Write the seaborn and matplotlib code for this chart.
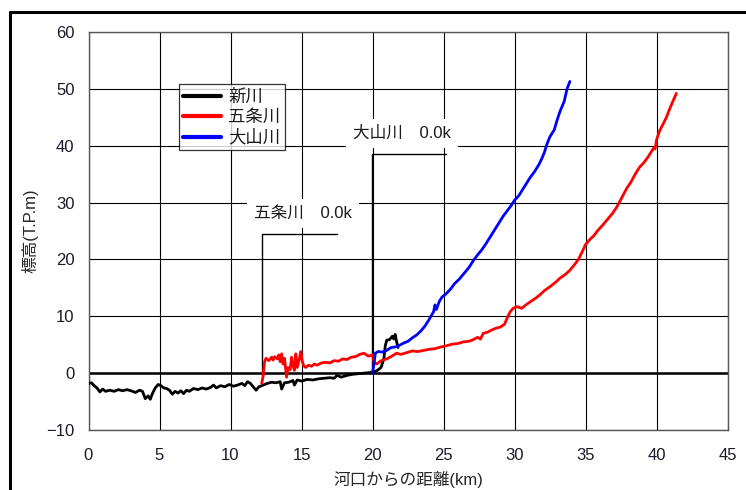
import numpy as np
import pandas as pd
import matplotlib as mpl
mpl.use("Agg")
import matplotlib.pyplot as plt
import seaborn as sns
from matplotlib.lines import Line2D

# data (distance from river mouth km, elevation T.P.m)
shinkawa_km = [0.0, 0.2, 0.4, 0.6, 0.8, 1.0, 1.2, 1.5, 1.8, 2.1, 2.4, 2.7, 3.0, 3.3, 3.6, 3.8,
               4.0, 4.2, 4.35, 4.5, 4.7, 4.9, 5.1, 5.3, 5.5, 5.7, 5.9, 6.1, 6.3, 6.5, 6.7, 6.9,
               7.1, 7.4, 7.7, 8.0, 8.3, 8.6, 8.8, 9.0, 9.3, 9.6, 9.9, 10.2, 10.5, 10.8, 11.0,
               11.2, 11.4, 11.6, 11.8, 12.0, 12.3, 12.6, 12.9, 13.2, 13.5, 13.6, 13.8, 14.1,
               14.4, 14.5, 14.7, 15.0, 15.4, 15.8, 16.2, 16.6, 17.0, 17.3, 17.5, 17.8, 18.2,
               18.6, 19.0, 19.4, 19.8, 20.0, 20.3, 20.6, 20.8, 20.9, 21.0, 21.2, 21.4, 21.5,
               21.6, 21.7, 21.8]
shinkawa_el = [-1.8, -1.7, -2.2, -2.6, -3.3, -2.8, -3.2, -3.0, -3.2, -2.9, -3.1, -2.9, -3.1,
               -3.4, -3.0, -3.2, -4.5, -4.0, -4.6, -3.6, -2.6, -2.0, -2.2, -2.6, -2.7, -3.0,
               -3.7, -3.2, -3.5, -3.1, -3.6, -3.0, -3.2, -2.7, -2.9, -2.6, -2.8, -2.5, -2.1,
               -2.6, -2.2, -2.4, -2.0, -2.3, -2.1, -1.8, -2.2, -1.5, -1.8, -2.4, -3.0, -2.4,
               -2.1, -1.8, -1.6, -1.7, -1.5, -2.8, -1.7, -1.6, -1.3, -2.1, -1.2, -1.4, -1.1,
               -1.2, -1.0, -0.9, -0.8, -0.9, -0.4, -0.7, -0.4, -0.2, -0.1, 0.0, 0.1, 0.2, 0.4,
               1.0, 2.5, 4.8, 5.8, 5.9, 6.5, 6.0, 6.8, 5.5, 4.5]

gojo_km = [12.2, 12.3, 12.4, 12.5, 12.7, 12.9, 13.0, 13.1, 13.3, 13.4, 13.5, 13.6, 13.7, 13.8,
           13.95, 14.05, 14.2, 14.3, 14.4, 14.5, 14.6, 14.7, 14.85, 14.95, 15.05, 15.15, 15.3,
           15.5, 15.7, 15.9, 16.1, 16.4, 16.7, 17.0, 17.3, 17.6, 17.9, 18.2, 18.5, 18.8, 19.1,
           19.4, 19.7, 20.0, 20.1, 20.3, 20.5, 20.7, 21.0, 21.3, 21.7, 22.0, 22.4, 22.8, 23.2,
           23.6, 24.0, 24.4, 24.8, 25.2, 25.6, 26.0, 26.4, 26.8, 27.1, 27.4, 27.6, 27.8, 28.1,
           28.4, 28.7, 29.0, 29.3, 29.5, 29.7, 29.9, 30.2, 30.5, 30.8, 31.2, 31.5, 31.8, 32.1,
           32.5, 32.9, 33.2, 33.6, 33.9, 34.2, 34.5, 34.8, 35.0, 35.3, 35.6, 35.9, 36.2, 36.6,
           36.9, 37.2, 37.5, 37.9, 38.2, 38.5, 38.8, 39.1, 39.4, 39.6, 39.8, 39.9, 40.0, 40.2,
           40.4, 40.7, 40.9, 41.1, 41.4]
gojo_el = [-1.8, -0.5, 2.0, 2.6, 2.2, 2.8, 2.3, 2.9, 2.5, 3.2, 2.0, 3.4, 1.6, 2.6, -0.7, 1.0,
           0.6, 2.8, 1.4, 0.5, 3.4, 1.0, 2.5, 3.8, 2.2, 1.3, 1.0, 1.4, 1.2, 1.6, 1.4, 1.8, 1.9,
           1.8, 2.2, 2.1, 2.5, 2.4, 2.8, 2.9, 3.3, 3.5, 3.0, 3.2, 2.0, 1.6, 2.0, 2.3, 2.5, 2.9,
           3.5, 3.3, 3.6, 3.9, 3.8, 4.0, 4.2, 4.3, 4.6, 4.8, 5.1, 5.2, 5.5, 5.6, 5.9, 6.3, 6.0,
           7.0, 7.2, 7.6, 7.9, 8.1, 8.6, 9.8, 10.8, 11.4, 11.7, 11.4, 12.0, 12.7, 13.2, 13.8,
           14.5, 15.2, 16.0, 16.7, 17.4, 18.1, 19.0, 20.0, 21.5, 22.6, 23.5, 24.2, 25.2, 26.0,
           27.2, 28.1, 29.2, 30.6, 32.5, 33.6, 35.0, 36.2, 37.0, 38.0, 38.8, 39.6, 39.4, 41.0,
           42.5, 43.5, 45.0, 46.3, 47.5, 49.2]

oyama_km = [20.0, 20.1, 20.2, 20.4, 20.7, 21.0, 21.3, 21.6, 21.9, 22.2, 22.5, 22.8, 23.1, 23.4,
            23.7, 24.0, 24.3, 24.4, 24.5, 24.7, 24.9, 25.2, 25.5, 25.8, 26.1, 26.4, 26.8, 27.1,
            27.4, 27.7, 28.0, 28.3, 28.6, 28.9, 29.2, 29.5, 29.8, 30.0, 30.3, 30.6, 30.8, 31.1,
            31.4, 31.7, 31.9, 32.1, 32.3, 32.5, 32.8, 33.0, 33.2, 33.5, 33.7, 33.9]
oyama_el = [0.0, 1.5, 3.5, 3.8, 3.7, 4.0, 4.5, 4.6, 4.9, 5.3, 5.6, 6.2, 6.7, 7.4, 8.3, 9.5,
            10.8, 12.0, 11.2, 12.6, 13.4, 14.0, 14.8, 15.8, 16.5, 17.4, 18.6, 19.8, 20.8, 21.7,
            22.8, 24.0, 25.2, 26.4, 27.6, 28.6, 29.6, 30.4, 31.2, 32.4, 33.2, 34.4, 35.4, 36.6,
            37.6, 38.8, 40.4, 41.6, 42.8, 44.5, 46.0, 47.8, 50.0, 51.3]

rivers = ["新川", "五条川", "大山川"]
colors = ["#000000", "#ff0000", "#0000ff"]
x_ticks = [0, 5, 10, 15, 20, 25, 30, 35, 40, 45]
y_ticks = [-10, 0, 10, 20, 30, 40, 50, 60]

df = pd.concat([
    pd.DataFrame({"km": shinkawa_km, "el": shinkawa_el, "river": rivers[0]}),
    pd.DataFrame({"km": gojo_km, "el": gojo_el, "river": rivers[1]}),
    pd.DataFrame({"km": oyama_km, "el": oyama_el, "river": rivers[2]}),
])

sns.set_style("white")
plt.rcParams["font.family"] = ["Liberation Sans", "Noto Sans CJK JP"]
plt.rcParams["text.color"] = "#1a1a1a"

fig = plt.figure(figsize=(7.46, 4.90), dpi=100)
ax = fig.add_axes([88.5 / 746, 1 - 430 / 490, (727.5 - 88.5) / 746, (430 - 32) / 490])

ax.set_xlim(0, 45)
ax.set_ylim(-10, 60)
ax.set_xticks(x_ticks)
ax.set_yticks(y_ticks)
ax.grid(True, color="black", linewidth=0.8)
ax.set_axisbelow(True)
ax.axhline(0, color="black", linewidth=1.8, zorder=1)

# leader lines for the confluence labels
ax.plot([12.22, 12.22, 17.5], [-0.3, 24.4, 24.4], color="black", linewidth=1.0, zorder=2)
ax.plot([19.97, 19.97, 25.2], [0.0, 38.5, 38.5], color="black", linewidth=1.0, zorder=2)
box = dict(facecolor="white", edgecolor="none", pad=5)
ax.text(15.1, 28.1, "五条川　0.0k", ha="center", va="center", fontsize=12, bbox=box, zorder=3)
ax.text(22.1, 42.2, "大山川　0.0k", ha="center", va="center", fontsize=12, bbox=box, zorder=3)

sns.lineplot(data=df, x="km", y="el", hue="river", hue_order=rivers, palette=colors,
             estimator=None, sort=False, linewidth=2.0, ax=ax, zorder=4)

for s in ax.spines.values():
    s.set_color("#555555")
    s.set_linewidth(1.0)

ax.tick_params(axis="both", length=0, labelsize=12, labelcolor="#1a1a2a")
ax.tick_params(axis="y", pad=10)
ax.tick_params(axis="x", pad=13)
ax.set_xlabel("河口からの距離(km)", fontsize=12, labelpad=6)
ax.set_ylabel("標高(T.P.m)", fontsize=12, labelpad=6)

handles, labels = ax.get_legend_handles_labels()
leg = ax.legend(handles, labels, loc="upper left", bbox_to_anchor=(0.141, 0.869),
                frameon=True, fancybox=False, fontsize=12.5, handlelength=2.2,
                handletextpad=0.4, labelspacing=0.25, borderpad=0.25, borderaxespad=0)
leg.get_frame().set_edgecolor("black")
leg.get_frame().set_linewidth(0.9)
leg.set_zorder(5)
for ln in leg.get_lines():
    ln.set_linewidth(3.0)

# outer frame of the source figure (left and top edges)
fig.add_artist(Line2D([10 / 746, 10 / 746], [0, 1 - 12.5 / 490], color="black", linewidth=2.2,
                      transform=fig.transFigure))
fig.add_artist(Line2D([10 / 746, 1], [1 - 12.5 / 490, 1 - 12.5 / 490], color="black",
                      linewidth=2.2, transform=fig.transFigure))

fig.savefig("out.png", dpi=100)
